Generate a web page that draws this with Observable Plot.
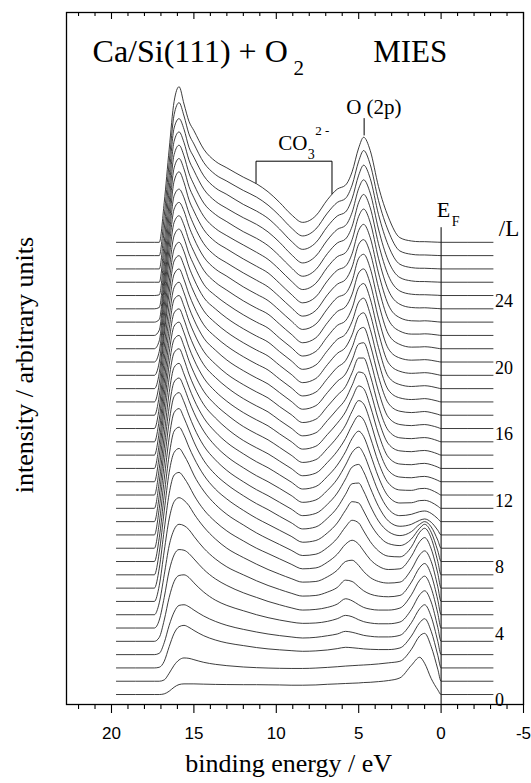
<!DOCTYPE html>
<html>
<head>
<meta charset="utf-8">
<script src="https://cdn.jsdelivr.net/npm/d3@7"></script>
<script src="https://cdn.jsdelivr.net/npm/@observablehq/plot@0.6"></script>
<style>
  html, body { margin: 0; padding: 0; background: #fff; color: #000; }
  svg { display: block; }
</style>
</head>
<body>
<div id="chart"></div>
<script>
// binding energies (eV) at which every spectrum is sampled
const energies = [19.7, 17.4, 17.1, 16.8, 16.5, 16.2, 15.9, 15.6, 15.3, 15.0, 14.4, 13.7, 13.0, 12.0, 11.2, 10.5, 9.8, 9.1, 8.4, 7.6, 6.9, 6.3, 5.8, 5.4, 5.0, 4.7, 4.3, 3.8, 3.2, 2.5, 1.8, 1.3, 1.0, 0.6, 0.2, 0.0, -3.15];

// intensity of each spectrum (units = spacing between stacked spectra), bottom (0 L) to top
const intensity = [
  [0,0,0,0.05,0.25,0.55,0.75,0.8,0.8,0.8,0.78,0.76,0.75,0.74,0.74,0.73,0.72,0.7,0.7,0.72,0.77,0.8,0.83,0.85,0.87,0.9,0.92,0.97,1.05,1.25,2.2,2.8,2.35,1.2,0.35,0,0],
  [0,0,0,0.1,0.6,1.2,1.6,1.75,1.72,1.62,1.42,1.27,1.17,1.07,1.02,0.99,0.97,0.96,0.96,0.99,1.04,1.09,1.14,1.17,1.2,1.22,1.25,1.3,1.38,1.5,2.4,3.4,3.6,2.6,0.9,0,0],
  [0,0,0.05,0.5,1.6,2.6,3.1,3.2,3.05,2.82,2.42,2.1,1.88,1.68,1.53,1.43,1.36,1.3,1.25,1.28,1.35,1.45,1.55,1.52,1.47,1.43,1.4,1.38,1.38,1.5,2.4,3.4,3.7,2.75,0.95,0,0],
  [0,0,0.1,0.9,2.2,3.2,3.7,3.75,3.6,3.35,2.9,2.5,2.2,1.9,1.7,1.55,1.43,1.33,1.25,1.3,1.42,1.55,1.75,1.68,1.55,1.45,1.38,1.33,1.33,1.45,2.4,3.45,3.75,2.85,1.0,0,0],
  [0,0,0.3,1.6,3.3,4.5,4.95,5.0,4.8,4.4,3.7,3.1,2.7,2.3,2.0,1.78,1.6,1.45,1.35,1.38,1.5,1.7,1.95,1.85,1.62,1.48,1.38,1.32,1.32,1.45,2.4,3.5,3.8,2.95,1.05,0,0],
  [0,0,0.6,2.3,4.3,5.5,5.9,5.85,5.6,5.2,4.4,3.7,3.2,2.65,2.3,2.0,1.75,1.52,1.35,1.4,1.55,1.8,2.2,2.05,1.75,1.55,1.42,1.35,1.35,1.5,2.5,3.6,3.9,3.0,1.1,0,0],
  [0,0,0.9,3.0,5.2,6.4,6.8,6.7,6.4,5.9,5.0,4.2,3.6,3.0,2.55,2.2,1.9,1.62,1.4,1.45,1.7,2.05,2.6,2.5,2.1,1.8,1.55,1.4,1.35,1.45,2.45,3.55,3.85,3.0,1.1,0,0],
  [0,0,1.2,3.8,6.2,7.5,7.8,7.6,7.2,6.6,5.6,4.7,4.0,3.3,2.8,2.4,2.05,1.72,1.45,1.5,1.85,2.35,3.0,3.1,2.7,2.25,1.8,1.5,1.38,1.45,2.4,3.5,3.8,3.0,1.1,0,0],
  [0,0,1.5,4.4,7.1,8.5,8.7,8.3,7.7,7.0,5.9,5.0,4.3,3.55,3.0,2.6,2.2,1.8,1.45,1.52,1.95,2.55,3.3,3.6,3.3,2.8,2.15,1.65,1.4,1.45,2.4,3.5,3.8,2.95,1.1,0,0],
  [0,0,1.7,4.8,7.7,9.2,9.5,9.0,8.3,7.5,6.3,5.3,4.55,3.75,3.15,2.7,2.28,1.85,1.45,1.55,2.05,2.75,3.6,4.1,3.9,3.3,2.5,1.8,1.4,1.35,2.1,3.2,3.5,2.75,1.0,0,0],
  [0,0,1.8,5.0,8.0,9.8,10.1,9.5,8.6,7.8,6.5,5.45,4.7,3.85,3.25,2.8,2.35,1.9,1.45,1.58,2.15,2.9,3.85,4.5,4.4,3.8,2.85,1.95,1.35,1.2,1.7,2.5,2.8,2.2,0.8,0,0],
  [0,0,1.9,5.2,8.3,10.2,10.5,9.8,8.9,8.0,6.6,5.55,4.8,3.95,3.35,2.9,2.4,1.92,1.45,1.6,2.25,3.05,4.05,4.85,4.9,4.3,3.2,2.05,1.25,0.95,1.25,1.8,2.0,1.6,0.6,0,0],
  [0,0,2.0,5.4,8.5,10.4,10.7,10.0,9.0,8.1,6.7,5.65,4.85,4.0,3.4,2.95,2.45,1.95,1.45,1.62,2.3,3.15,4.2,5.1,5.3,4.75,3.55,2.15,1.05,0.65,0.8,1.1,1.2,0.95,0.35,0,0],
  [0,0,2.0,5.5,8.6,10.5,10.8,10.1,9.1,8.2,6.8,5.7,4.9,4.05,3.45,3.0,2.5,1.97,1.45,1.63,2.35,3.2,4.25,5.2,5.6,5.1,3.85,2.25,0.95,0.45,0.55,0.75,0.8,0.62,0.22,0,0],
  [0,0,2.0,5.5,8.7,10.6,10.9,10.1,9.1,8.2,6.8,5.75,4.95,4.1,3.5,3.05,2.52,1.98,1.45,1.64,2.4,3.25,4.25,5.25,5.8,5.4,4.1,2.35,0.9,0.4,0.42,0.58,0.6,0.46,0.16,0,0],
  [0,0,2.0,5.6,8.8,10.7,11.0,10.2,9.1,8.2,6.8,5.8,5.0,4.1,3.55,3.1,2.55,2.0,1.45,1.65,2.45,3.3,4.25,5.25,5.95,5.65,4.35,2.45,0.9,0.38,0.35,0.48,0.5,0.38,0.13,0,0],
  [0,0,2.0,5.6,8.8,10.7,11.0,10.2,9.1,8.2,6.8,5.8,5.05,4.15,3.6,3.15,2.58,2.0,1.45,1.66,2.5,3.35,4.25,5.3,6.1,5.85,4.55,2.5,0.85,0.35,0.3,0.38,0.4,0.3,0.1,0,0],
  [0,0,1.9,5.5,8.7,10.7,11.0,10.2,9.1,8.2,6.8,5.8,5.05,4.2,3.65,3.2,2.6,2.02,1.45,1.67,2.55,3.4,4.25,5.3,6.2,6.0,4.7,2.6,0.85,0.33,0.28,0.36,0.38,0.28,0.1,0,0],
  [0,0,1.8,5.4,8.6,10.7,11.0,10.2,9.1,8.2,6.8,5.85,5.1,4.25,3.7,3.25,2.62,2.03,1.45,1.68,2.6,3.45,4.2,5.25,6.25,6.15,4.85,2.65,0.85,0.32,0.26,0.33,0.35,0.26,0.09,0,0],
  [0,0,1.7,5.3,8.5,10.7,11.0,10.2,9.1,8.2,6.8,5.85,5.1,4.3,3.75,3.3,2.65,2.05,1.45,1.7,2.65,3.5,4.15,5.2,6.3,6.3,5.0,2.7,0.85,0.3,0.24,0.3,0.32,0.24,0.08,0,0],
  [0,0,1.6,5.2,8.4,10.6,11.0,10.2,9.1,8.2,6.8,5.9,5.15,4.35,3.8,3.35,2.7,2.05,1.45,1.72,2.7,3.55,4.1,5.15,6.35,6.45,5.15,2.8,0.85,0.3,0.22,0.28,0.3,0.22,0.08,0,0],
  [0,0,1.5,5.1,8.3,10.6,11.0,10.2,9.1,8.2,6.8,5.9,5.2,4.4,3.85,3.4,2.72,2.07,1.45,1.74,2.75,3.6,4.1,5.1,6.4,6.6,5.3,2.9,0.9,0.3,0.2,0.25,0.28,0.2,0.07,0,0],
  [0,0,1.4,5.0,8.2,10.6,11.0,10.25,9.15,8.25,6.85,5.95,5.25,4.45,3.9,3.45,2.75,2.08,1.45,1.76,2.8,3.65,4.1,5.05,6.45,6.7,5.45,3.0,0.9,0.3,0.18,0.22,0.25,0.18,0.06,0,0],
  [0,0,1.2,4.6,8.0,10.5,11.0,10.3,9.15,8.25,6.85,6.0,5.3,4.5,3.95,3.5,2.78,2.1,1.45,1.78,2.85,3.7,4.1,5.05,6.5,6.8,5.6,3.1,0.9,0.3,0.16,0.2,0.22,0.16,0.05,0,0],
  [0,0,1.0,4.4,7.9,10.5,11.0,10.3,9.15,8.3,6.85,6.0,5.35,4.55,4.0,3.55,2.8,2.1,1.45,1.8,2.9,3.75,4.1,5.05,6.6,6.9,5.75,3.2,0.95,0.3,0.15,0.18,0.2,0.15,0.05,0,0],
  [0,0,0.8,4.2,7.8,10.5,11.0,10.3,9.15,8.3,6.9,6.0,5.4,4.6,4.05,3.6,2.85,2.1,1.45,1.82,2.95,3.8,4.15,5.1,6.7,7.0,5.9,3.3,1.0,0.3,0.14,0.16,0.18,0.13,0.04,0,0],
  [0,0,0.6,4.0,7.6,10.5,11.0,10.35,9.2,8.3,6.9,6.0,5.45,4.65,4.1,3.62,2.88,2.1,1.45,1.85,3.0,3.85,4.15,5.1,6.8,7.1,6.05,3.45,1.1,0.32,0.12,0.13,0.15,0.11,0.03,0,0],
  [0,0,0.4,3.7,7.4,10.5,11.0,10.35,9.2,8.3,6.9,6.0,5.45,4.7,4.15,3.65,2.9,2.1,1.45,1.88,3.05,3.85,4.2,5.15,6.85,7.2,6.2,3.6,1.2,0.32,0.1,0.1,0.12,0.09,0.03,0,0],
  [0,0,0.2,3.4,7.2,10.6,11.3,10.5,9.2,8.35,6.95,6.05,5.5,4.75,4.2,3.7,2.92,2.1,1.45,1.9,3.1,3.9,4.2,5.15,6.9,7.35,6.35,3.7,1.3,0.33,0.1,0.08,0.1,0.07,0.02,0,0],
  [0,0,0.1,3.2,7.1,10.6,11.3,10.5,9.2,8.35,6.95,6.05,5.5,4.8,4.25,3.72,2.95,2.1,1.45,1.92,3.12,3.92,4.22,5.2,6.95,7.5,6.5,3.8,1.4,0.34,0.1,0.07,0.08,0.05,0.02,0,0],
  [0,0,0.05,3.1,7.0,10.6,11.3,10.5,9.2,8.35,6.95,6.1,5.55,4.8,4.3,3.75,2.97,2.1,1.45,1.95,3.15,3.95,4.25,5.2,7.0,7.6,6.6,3.9,1.5,0.34,0.1,0.06,0.06,0.04,0.02,0,0],
  [0,0,0,3.0,7.0,10.6,11.3,10.5,9.2,8.4,7.0,6.1,5.55,4.85,4.35,3.78,3.0,2.1,1.45,1.97,3.17,3.97,4.27,5.25,7.05,7.7,6.7,4.0,1.6,0.35,0.1,0.05,0.05,0.03,0.01,0,0],
  [0,0,0,3.0,7.0,10.6,11.3,10.5,9.15,8.4,7.0,6.1,5.6,4.85,4.35,3.8,3.0,2.1,1.47,1.98,3.18,3.98,4.28,5.28,7.05,7.8,6.8,4.1,1.75,0.35,0.1,0.05,0.05,0.03,0.01,0,0],
  [0,0,0,3.0,7.0,10.6,11.5,10.5,9.15,8.4,7.0,6.1,5.6,4.9,4.4,3.8,3.0,2.1,1.48,2.0,3.2,4.0,4.3,5.3,7.1,7.9,6.85,4.15,1.85,0.35,0.1,0.05,0.05,0.03,0.01,0,0],
  [0,0,0,3.0,7.0,10.6,11.7,10.4,9.1,8.4,7.0,6.1,5.6,4.9,4.4,3.8,3.0,2.1,1.5,2.0,3.2,4.0,4.3,5.3,7.1,7.9,6.9,4.2,1.9,0.35,0.1,0.05,0.05,0.03,0.01,0,0]
];

// right-hand exposure labels (Langmuir) and the spectrum each one belongs to
const labelCurves = [0, 5, 10, 15, 20, 25, 30];
const exposureLabels = ["0", "4", "8", "12", "16", "20", "24"];

// axis ticks
const majorTicks = [20, 15, 10, 5, 0, -5];
const minorTicks = [22, 21, 19, 18, 17, 16, 14, 13, 12, 11, 9, 8, 7, 6, 4, 3, 2, 1, -1, -2, -3, -4];

// annotation anchors (eV, stacked-intensity units)
const o2pPeak = {E: 4.67, y: 41.95};
const co3Bracket = {left: 11.23, right: 6.62, top: 40.1, leftEnd: 38.45, rightEnd: 37.65};
const fermiTop = 35.1;

const rows = [];
intensity.forEach((vals, i) => {
  vals.forEach((v, j) => rows.push({curve: i, E: energies[j], y: i + v}));
});

const serif = "'Liberation Serif', 'Times New Roman', Times, serif";
const sans = "'Liberation Sans', Arial, Helvetica, sans-serif";
const yMin = -0.75, yMax = 51.28;
const pxU = 1 / 13.3; // one pixel in stacked-intensity units

const bracketPath = [
  {E: co3Bracket.left, y: co3Bracket.leftEnd},
  {E: co3Bracket.left, y: co3Bracket.top},
  {E: co3Bracket.right, y: co3Bracket.top},
  {E: co3Bracket.right, y: co3Bracket.rightEnd}
];

const labelData = labelCurves.map((c, k) => ({curve: c, text: exposureLabels[k]}));

const chart = Plot.plot({
  width: 531,
  height: 783,
  marginLeft: 66,
  marginRight: 8,
  marginTop: 12,
  marginBottom: 79,
  style: {background: "#fff", color: "#000", fontFamily: serif},
  x: {domain: [22.73, -5]},
  y: {domain: [yMin, yMax], axis: null},
  marks: [
    Plot.frame({stroke: "#000", strokeWidth: 1.3}),
    // bottom axis with labels
    Plot.axisX({ticks: majorTicks, anchor: "bottom", tickSize: 9, tickPadding: 13,
      tickFormat: d => String(d), fontSize: 17, label: null, strokeWidth: 1.1}),
    // bottom minor ticks
    Plot.ruleX(minorTicks, {x: d => d, y1: yMin, y2: yMin - 5 * pxU, stroke: "#000", strokeWidth: 1.1}),
    // top ticks (inward)
    Plot.ruleX(majorTicks, {x: d => d, y1: yMax, y2: yMax - 7 * pxU, stroke: "#000", strokeWidth: 1.1}),
    Plot.ruleX(minorTicks, {x: d => d, y1: yMax, y2: yMax - 4 * pxU, stroke: "#000", strokeWidth: 1.1}),
    // Fermi level line
    Plot.ruleX([0], {x: d => d, y1: yMin, y2: fermiTop, stroke: "#000", strokeWidth: 1}),
    // spectra
    Plot.line(rows, {x: "E", y: "y", z: "curve", curve: "monotone-x", stroke: "#1a1a1a", strokeWidth: 0.85}),
    // O(2p) marker
    Plot.ruleX([o2pPeak], {x: "E", y1: d => d.y + 0.05, y2: d => d.y + 1.35, stroke: "#000", strokeWidth: 1}),
    // CO3 bracket
    Plot.line(bracketPath, {x: "E", y: "y", stroke: "#000", strokeWidth: 1}),
    // exposure labels
    Plot.text(labelData, {x: -3.27, y: "curve", text: "text", textAnchor: "start", lineAnchor: "top",
      dy: -1, fontSize: 18, fontFamily: serif}),
    Plot.text(["/L"], {x: -3.5, y: 35.0, text: d => d, textAnchor: "start", fontSize: 23, fontFamily: serif}),
    // titles
    Plot.text(["Ca/Si(111) + O"], {x: 21.15, y: 48.3, text: d => d, textAnchor: "start", fontSize: 32, fontFamily: serif}),
    Plot.text(["2"], {x: 8.95, y: 47.1, text: d => d, textAnchor: "start", fontSize: 21, fontFamily: serif}),
    Plot.text(["MIES"], {x: 4.12, y: 48.3, text: d => d, textAnchor: "start", fontSize: 31, fontFamily: serif}),
    Plot.text(["O (2p)"], {x: 5.76, y: 44.17, text: d => d, textAnchor: "start", fontSize: 21, fontFamily: serif}),
    Plot.text(["CO"], {x: 9.88, y: 41.43, text: d => d, textAnchor: "start", fontSize: 21, fontFamily: serif}),
    Plot.text(["3"], {x: 8.09, y: 40.6, text: d => d, textAnchor: "start", fontSize: 14, fontFamily: serif}),
    Plot.text(["2 -"], {x: 7.64, y: 42.4, text: d => d, textAnchor: "start", fontSize: 13, fontFamily: serif}),
    Plot.text(["E"], {x: 0.26, y: 36.47, text: d => d, textAnchor: "start", fontSize: 22, fontFamily: serif}),
    Plot.text(["F"], {x: -0.65, y: 35.56, text: d => d, textAnchor: "start", fontSize: 14, fontFamily: serif}),
    // axis titles
    Plot.text(["binding energy / eV"], {x: 9.25, y: -5.17, text: d => d, fontSize: 26, fontFamily: serif}),
    Plot.text(["intensity / arbitrary units"], {x: 25.27, y: 24.77, text: d => d, rotate: -90, fontSize: 26, fontFamily: serif})
  ]
});

// tick numerals of the energy axis are set in a sans-serif face, as in the original
d3.select(chart).selectAll('g[aria-label="x-axis tick label"]').attr("font-family", sans);

document.getElementById("chart").appendChild(chart);
</script>
</body>
</html>
